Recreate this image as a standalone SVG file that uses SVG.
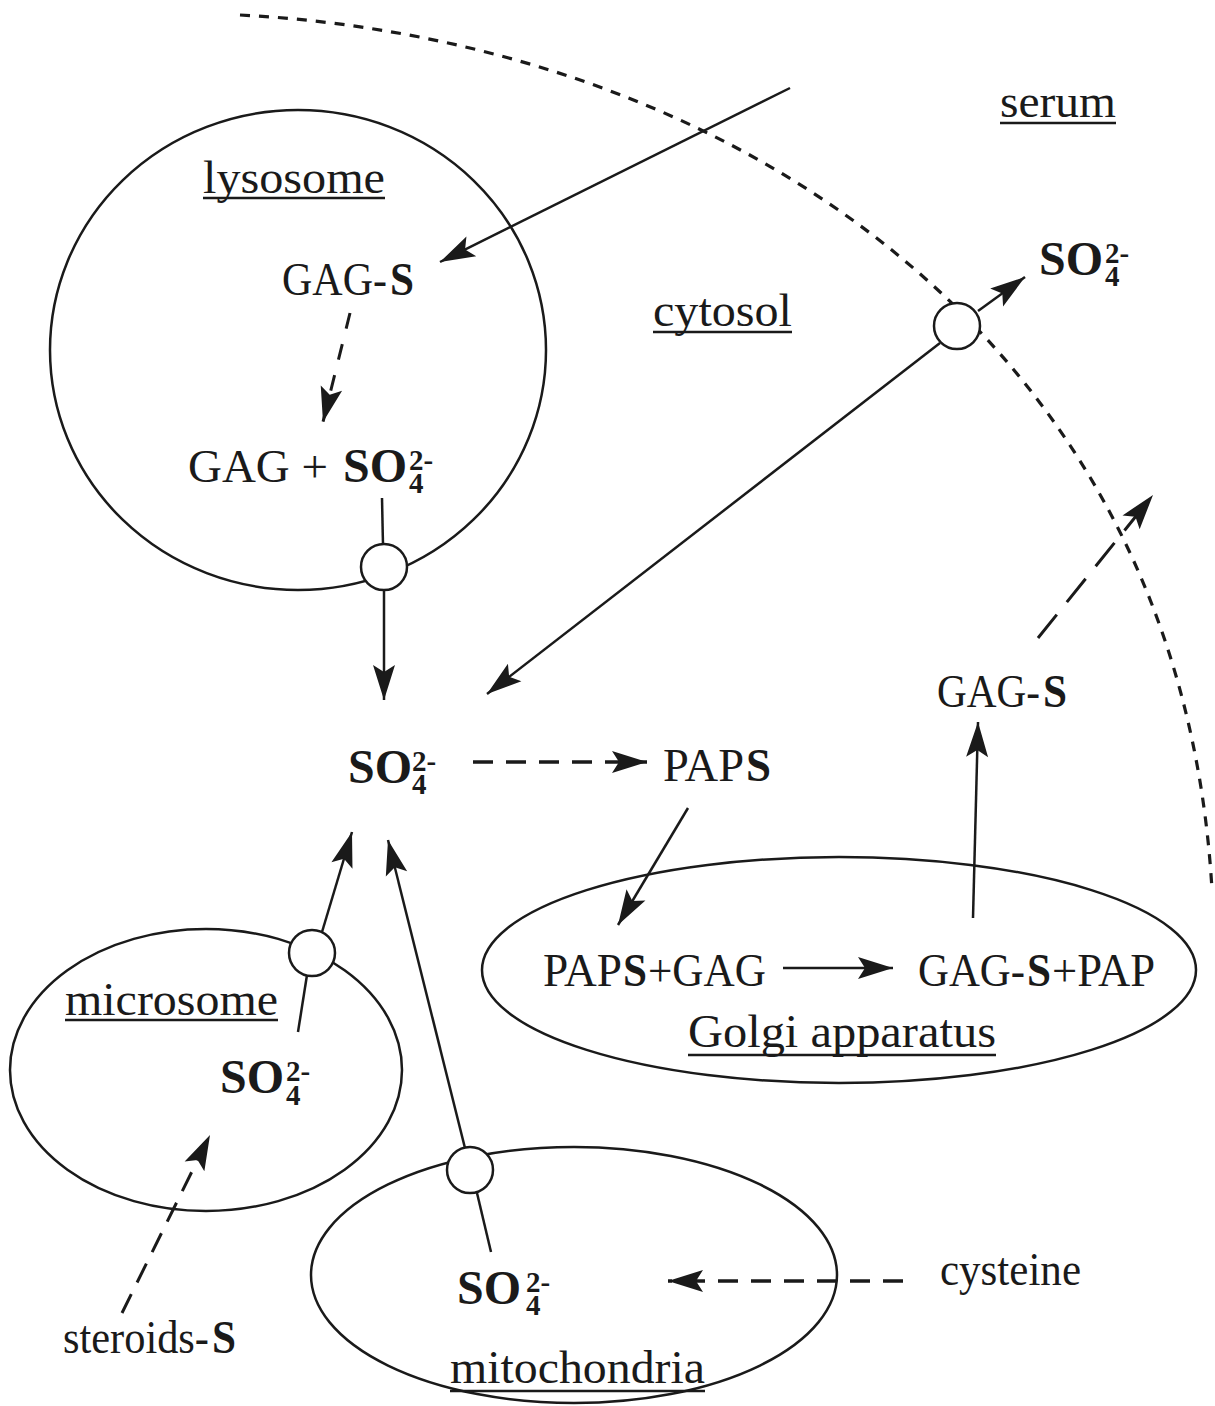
<svg xmlns="http://www.w3.org/2000/svg" width="1215" height="1406" viewBox="0 0 1215 1406">
<defs>
<style>
.t{font-family:"Liberation Serif","Times New Roman",serif;font-size:47px;fill:#1a1a1a}
.tb{font-family:"Liberation Serif","Times New Roman",serif;font-size:47px;font-weight:bold;fill:#1a1a1a}
.b{font-family:"Liberation Serif","Times New Roman",serif;font-size:48px;font-weight:bold;fill:#1a1a1a}
.s{font-family:"Liberation Serif","Times New Roman",serif;font-size:29px;font-weight:bold;fill:#1a1a1a}
.ul{stroke:#1a1a1a;stroke-width:2.5}
.org{fill:none;stroke:#1a1a1a;stroke-width:2.5}
.tr{fill:#fff;stroke:#1a1a1a;stroke-width:2.5}
.sol{fill:none;stroke:#1a1a1a;stroke-width:2.5;marker-end:url(#ah)}
.dsh{fill:none;stroke:#1a1a1a;stroke-width:3.5;stroke-dasharray:20 13;marker-end:url(#ah)}
.mem{fill:none;stroke:#1a1a1a;stroke-width:3.2;stroke-dasharray:10 9}
</style>
<marker id="ah" markerUnits="userSpaceOnUse" markerWidth="40" markerHeight="26" viewBox="-37 -13 40 26" refX="0" refY="0" orient="auto">
<path d="M0,0 L-35,-11 L-28,0 L-35,11 Z" fill="#1a1a1a"/>
</marker>
</defs>
<rect width="1215" height="1406" fill="#fff"/>

<g id="membrane">
<path class="mem" d="M240,15 C720,40 1180,330 1212,890"/>
</g>

<g id="lysosome">
<ellipse class="org" cx="298" cy="350" rx="248" ry="240"/>
<text class="t" x="203" y="193" textLength="182" lengthAdjust="spacingAndGlyphs">lysosome</text>
<line class="ul" x1="203" y1="198" x2="385" y2="198"/>
</g>

<g id="microsome">
<ellipse class="org" cx="206" cy="1070" rx="196" ry="141"/>
<text class="t" x="65" y="1015" textLength="213" lengthAdjust="spacingAndGlyphs">microsome</text>
<line class="ul" x1="65" y1="1020" x2="278" y2="1020"/>
</g>

<g id="mitochondria">
<ellipse class="org" cx="574" cy="1275" rx="263" ry="128"/>
<text class="t" x="450" y="1383" textLength="255" lengthAdjust="spacingAndGlyphs">mitochondria</text>
<line class="ul" x1="450" y1="1391" x2="705" y2="1391"/>
</g>

<g id="golgi">
<ellipse class="org" cx="839" cy="970" rx="357" ry="113"/>
<text class="t" x="688" y="1047" textLength="308" lengthAdjust="spacingAndGlyphs">Golgi apparatus</text>
<line class="ul" x1="688" y1="1055" x2="996" y2="1055"/>
</g>

<g id="connectors">
<line class="sol" x1="790" y1="88" x2="440" y2="262"/>
<line class="dsh" style="stroke-width:3;stroke-dasharray:16 16" x1="350" y1="313" x2="323" y2="422"/>
<line class="org" x1="382" y1="498" x2="383" y2="545"/>
<line class="sol" x1="384" y1="590" x2="384" y2="700"/>
<line class="sol" x1="940" y1="343" x2="487" y2="694"/>
<line class="sol" x1="978" y1="311" x2="1025" y2="277"/>
<line class="dsh" x1="473" y1="762" x2="647" y2="762"/>
<line class="sol" x1="688" y1="808" x2="618" y2="925"/>
<line class="sol" x1="783" y1="968" x2="893" y2="968"/>
<line class="sol" x1="973" y1="918" x2="978" y2="722"/>
<line class="dsh" style="stroke-width:3;stroke-dasharray:30 16" x1="1038" y1="638" x2="1153" y2="495"/>
<line class="sol" x1="322" y1="932" x2="352" y2="832"/>
<line class="org" x1="298" y1="1032" x2="307" y2="975"/>
<line class="sol" x1="465" y1="1148" x2="388" y2="840"/>
<line class="org" x1="477" y1="1193" x2="491" y2="1252"/>
<line class="dsh" style="stroke-width:3;stroke-dasharray:21 13" x1="122" y1="1313" x2="210" y2="1135"/>
<line class="dsh" x1="903" y1="1281" x2="668" y2="1281"/>
</g>

<g id="transporters">
<circle class="tr" cx="957" cy="326" r="23"/>
<circle class="tr" cx="384" cy="567" r="23"/>
<circle class="tr" cx="312" cy="953" r="23"/>
<circle class="tr" cx="470" cy="1170" r="23"/>
</g>

<g id="serum">
<text class="t" x="1000" y="117" textLength="116" lengthAdjust="spacingAndGlyphs">serum</text>
<line class="ul" x1="1000" y1="123" x2="1116" y2="123"/>
</g>

<g id="cytosol">
<text class="t" x="653" y="326" textLength="139" lengthAdjust="spacingAndGlyphs">cytosol</text>
<line class="ul" x1="653" y1="332" x2="792" y2="332"/>
</g>

<g id="so4-serum">
<text class="b" x="1039" y="275">SO</text>
<text class="s" x="1105" y="263">2-</text>
<text class="s" x="1105" y="286">4</text>
</g>

<g id="gags-lysosome">
<text class="t" x="282" y="295" textLength="105" lengthAdjust="spacingAndGlyphs">GAG-</text>
<text class="tb" x="390" y="295" textLength="24" lengthAdjust="spacingAndGlyphs">S</text>
</g>

<g id="gag-so4-lysosome">
<text class="t" x="188" y="482" textLength="140" lengthAdjust="spacingAndGlyphs">GAG +</text>
<text class="b" x="343" y="482">SO</text>
<text class="s" x="409" y="470">2-</text>
<text class="s" x="409" y="493">4</text>
</g>

<g id="so4-cytosol">
<text class="b" x="348" y="783">SO</text>
<text class="s" x="412" y="771">2-</text>
<text class="s" x="412" y="794">4</text>
</g>

<g id="paps">
<text class="t" x="663" y="781" textLength="81" lengthAdjust="spacingAndGlyphs">PAP</text>
<text class="tb" x="746" y="781" textLength="25" lengthAdjust="spacingAndGlyphs">S</text>
</g>

<g id="paps-gag">
<text class="t" x="543" y="986" textLength="79" lengthAdjust="spacingAndGlyphs">PAP</text>
<text class="tb" x="623" y="986" textLength="24" lengthAdjust="spacingAndGlyphs">S</text>
<text class="t" x="648" y="986" textLength="118" lengthAdjust="spacingAndGlyphs">+GAG</text>
</g>

<g id="gags-pap">
<text class="t" x="918" y="986" textLength="107" lengthAdjust="spacingAndGlyphs">GAG-</text>
<text class="tb" x="1027" y="986" textLength="24" lengthAdjust="spacingAndGlyphs">S</text>
<text class="t" x="1052" y="986" textLength="103" lengthAdjust="spacingAndGlyphs">+PAP</text>
</g>

<g id="gags-secreted">
<text class="t" x="937" y="707" textLength="103" lengthAdjust="spacingAndGlyphs">GAG-</text>
<text class="tb" x="1043" y="707" textLength="24" lengthAdjust="spacingAndGlyphs">S</text>
</g>

<g id="so4-microsome">
<text class="b" x="220" y="1093">SO</text>
<text class="s" x="286" y="1081">2-</text>
<text class="s" x="286" y="1105">4</text>
</g>

<g id="so4-mitochondria">
<text class="b" x="457" y="1304">SO</text>
<text class="s" x="526" y="1292">2-</text>
<text class="s" x="526" y="1315">4</text>
</g>

<g id="cysteine">
<text class="t" x="940" y="1285" textLength="141" lengthAdjust="spacingAndGlyphs">cysteine</text>
</g>

<g id="steroids">
<text class="t" x="63" y="1353" textLength="146" lengthAdjust="spacingAndGlyphs">steroids-</text>
<text class="tb" x="212" y="1353" textLength="24" lengthAdjust="spacingAndGlyphs">S</text>
</g>
</svg>
